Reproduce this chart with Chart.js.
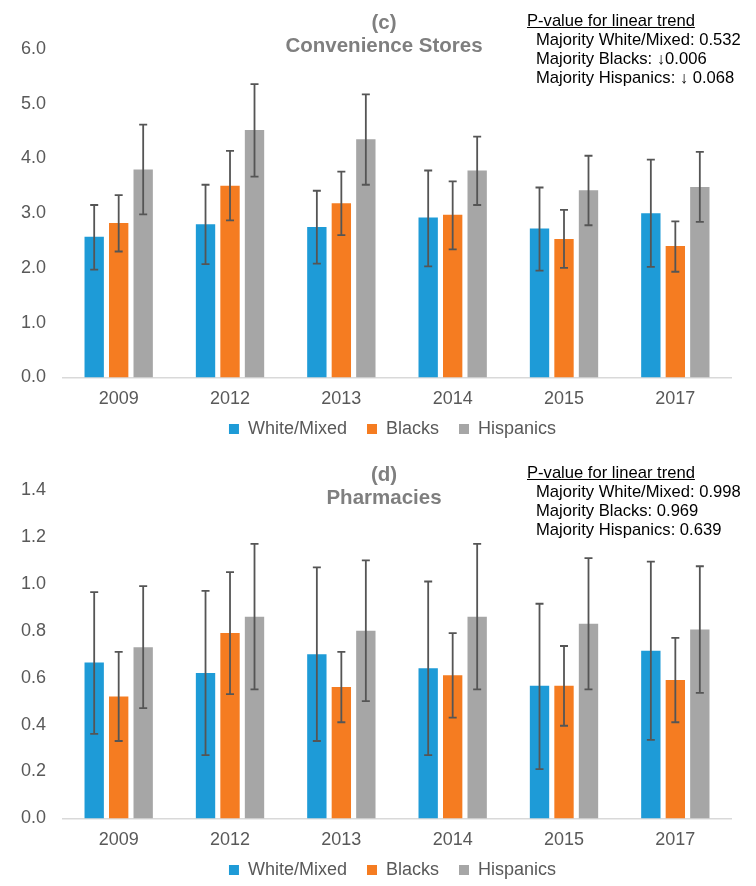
<!DOCTYPE html>
<html><head>
<title>Convenience Stores and Pharmacies</title>
<script src="https://cdn.jsdelivr.net/npm/chart.js@4"></script>
<style>
body { margin: 0; background: #fff; font-family: "Liberation Sans", Arial, sans-serif; width: 756px; height: 886px; position: relative; overflow: hidden; }
.panel { position: absolute; left: 0; width: 756px; height: 469px; }
.title { position: absolute; width: 756px; left: 6px; text-align: center; font-weight: bold; color: #7F7F7F; font-size: 20.5px; line-height: 23px; }
.pval { position: absolute; left: 527px; font-size: 16.6px; line-height: 19px; color: #000; white-space: nowrap; }
.pval div { padding-left: 9px; }
.pval .head { padding-left: 0; text-decoration: underline; }
</style></head><body>

<div class="panel" style="top:0"><canvas id="chartC"></canvas></div>
<div class="panel" style="top:441px"><canvas id="chartD"></canvas></div>

<div class="title" style="top:10px">(c)<br>Convenience Stores</div>
<div class="pval" style="top:11px">
  <div class="head">P-value for linear trend</div>
  <div>Majority White/Mixed: 0.532</div>
  <div>Majority Blacks: &darr;0.006</div>
  <div>Majority Hispanics: &darr; 0.068</div>
</div>

<div class="title" style="top:462px">(d)<br>Pharmacies</div>
<div class="pval" style="top:463px">
  <div class="head">P-value for linear trend</div>
  <div>Majority White/Mixed: 0.998</div>
  <div>Majority Blacks: 0.969</div>
  <div>Majority Hispanics: 0.639</div>
</div>

<script>
const YEARS = ['2009', '2012', '2013', '2014', '2015', '2017'];
const SERIES = ['White/Mixed', 'Blacks', 'Hispanics'];
const COLORS = ['#1E9BD7', '#F57C21', '#A6A6A6'];

// (c) Convenience stores: mean and 95% CI per year
const convWhite   = [2.57, 2.80, 2.75, 2.92, 2.72, 3.00];
const convWhiteLo = [1.97, 2.07, 2.08, 2.03, 1.95, 2.02];
const convWhiteHi = [3.15, 3.52, 3.41, 3.78, 3.47, 3.98];
const convBlack   = [2.82, 3.50, 3.18, 2.97, 2.53, 2.40];
const convBlackLo = [2.30, 2.87, 2.60, 2.34, 2.00, 1.93];
const convBlackHi = [3.33, 4.14, 3.76, 3.58, 3.06, 2.85];
const convHisp    = [3.80, 4.52, 4.35, 3.78, 3.42, 3.48];
const convHispLo  = [2.98, 3.67, 3.52, 3.15, 2.78, 2.84];
const convHispHi  = [4.62, 5.36, 5.17, 4.40, 4.05, 4.12];

// (d) Pharmacies
const pharWhite   = [0.665, 0.62, 0.70, 0.64, 0.565, 0.715];
const pharWhiteLo = [0.36, 0.27, 0.33, 0.27, 0.21, 0.335];
const pharWhiteHi = [0.965, 0.97, 1.07, 1.01, 0.915, 1.095];
const pharBlack   = [0.52, 0.79, 0.56, 0.61, 0.565, 0.59];
const pharBlackLo = [0.33, 0.53, 0.41, 0.43, 0.395, 0.41];
const pharBlackHi = [0.71, 1.05, 0.71, 0.79, 0.735, 0.77];
const pharHisp    = [0.73, 0.86, 0.80, 0.86, 0.83, 0.805];
const pharHispLo  = [0.47, 0.55, 0.50, 0.55, 0.55, 0.535];
const pharHispHi  = [0.99, 1.17, 1.10, 1.17, 1.11, 1.075];

const TEXT = '#595959';
Chart.defaults.font.family = '"Liberation Sans", Arial, sans-serif';
Chart.defaults.color = TEXT;

// draws the CI whiskers using the y scale of the chart
const errorBars = {
  id: 'errorBars',
  afterDatasetsDraw(chart) {
    const ctx = chart.ctx;
    const y = chart.scales.y;
    ctx.save();
    ctx.strokeStyle = '#555555';
    ctx.lineWidth = 1.8;
    chart.data.datasets.forEach((ds, i) => {
      const meta = chart.getDatasetMeta(i);
      meta.data.forEach((bar, j) => {
        const top = y.getPixelForValue(ds.errHi[j]);
        const bot = y.getPixelForValue(ds.errLo[j]);
        ctx.beginPath();
        ctx.moveTo(bar.x, top); ctx.lineTo(bar.x, bot);
        ctx.moveTo(bar.x - 4, top); ctx.lineTo(bar.x + 4, top);
        ctx.moveTo(bar.x - 4, bot); ctx.lineTo(bar.x + 4, bot);
        ctx.stroke();
      });
    });
    ctx.restore();
  }
};

// Excel puts the legend closer to the tick labels and centred on the plot, nudge it
const legendNudge = {
  id: 'legendNudge',
  afterLayout(chart) {
    const lg = chart.legend;
    lg.left += 25; lg.right += 25;
    lg.top -= 21; lg.bottom -= 21;
  }
};

function makeChart(id, vals, lows, highs, yMax, yStep) {
  const datasets = SERIES.map((name, i) => ({
    label: name,
    data: vals[i],
    errLo: lows[i],
    errHi: highs[i],
    backgroundColor: COLORS[i],
    borderWidth: 0,
    barPercentage: 0.79,
    categoryPercentage: 0.66,
  }));
  return new Chart(document.getElementById(id), {
    type: 'bar',
    data: { labels: YEARS, datasets },
    plugins: [errorBars, legendNudge],
    options: {
      responsive: true, maintainAspectRatio: false, animation: false,
      layout: { padding: { top: 49, left: 4, right: 25, bottom: 0 } },
      plugins: {
        title: { display: false },
        tooltip: { enabled: false },
        legend: {
          position: 'bottom',
          labels: { boxWidth: 10, boxHeight: 10, padding: 20, font: { size: 18 }, color: TEXT }
        }
      },
      scales: {
        x: {
          grid: { display: false, drawTicks: false },
          border: { display: true, color: '#D9D9D9', width: 1.5 },
          ticks: { font: { size: 18 }, color: TEXT, padding: 11 }
        },
        y: {
          min: 0, max: yMax,
          grid: { display: false, drawTicks: false },
          border: { display: false },
          ticks: { stepSize: yStep, font: { size: 18 }, color: TEXT, padding: 17,
                   callback: v => v.toFixed(1) }
        }
      }
    }
  });
}

makeChart('chartC',
  [convWhite, convBlack, convHisp],
  [convWhiteLo, convBlackLo, convHispLo],
  [convWhiteHi, convBlackHi, convHispHi], 6, 1);

makeChart('chartD',
  [pharWhite, pharBlack, pharHisp],
  [pharWhiteLo, pharBlackLo, pharHispLo],
  [pharWhiteHi, pharBlackHi, pharHispHi], 1.4, 0.2);
</script>
</body></html>
